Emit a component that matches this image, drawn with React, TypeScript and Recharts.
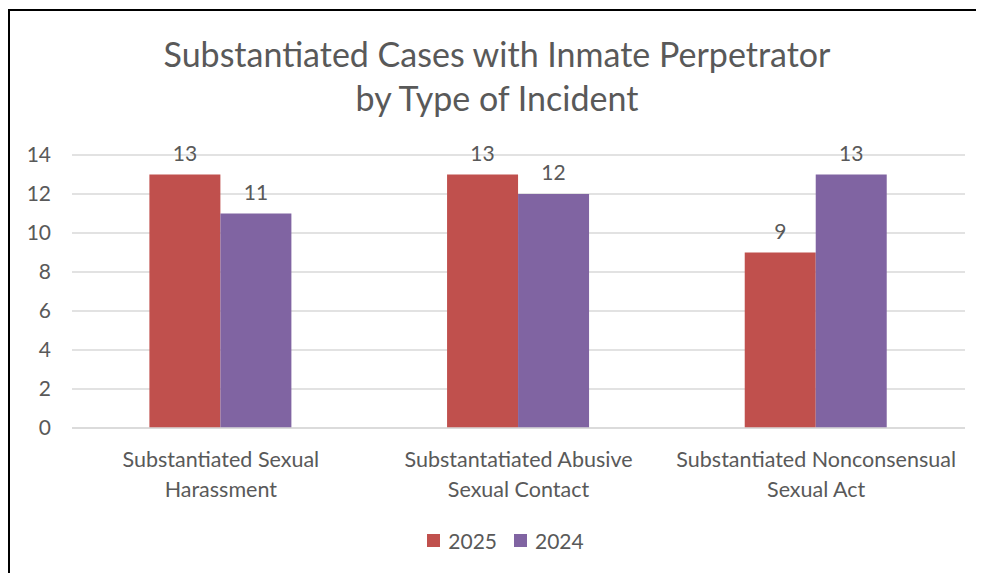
import { BarChart, Bar, XAxis, YAxis, CartesianGrid, Legend, LabelList } from 'recharts';

const categories = [
  ['Substantiated Sexual', 'Harassment'],
  ['Substantatiated Abusive', 'Sexual Contact'],
  ['Substantiated Nonconsensual', 'Sexual Act'],
];
const cases2025 = [13, 13, 9];
const cases2024 = [11, 12, 13];
const yTicks = [0, 2, 4, 6, 8, 10, 12, 14];

const FONT = 'Lato, "Open Sans", sans-serif';
const TEXT = '#595959';

const data = categories.map((c, i) => ({
  name: c.join(' '),
  y2025: cases2025[i],
  y2024: cases2024[i],
}));

function CategoryTick({ x, y, index }: any) {
  const lines = categories[index] ?? [];
  return (
    <g transform={`translate(${x},${y})`}>
      {lines.map((l, i) => (
        <text key={i} x={0} y={i * 30 + 31} textAnchor="middle" fill={TEXT} fontSize={21.5} fontFamily={FONT}>
          {l}
        </text>
      ))}
    </g>
  );
}

function LegendBox() {
  const items = [
    { label: '2025', color: '#C0504D' },
    { label: '2024', color: '#8064A2' },
  ];
  return (
    <div
      style={{
        display: 'flex',
        justifyContent: 'center',
        gap: 17,
        fontFamily: FONT,
        fontSize: 21,
        color: TEXT,
        paddingLeft: 36,
      }}
    >
      {items.map((it) => (
        <div key={it.label} style={{ display: 'flex', alignItems: 'center', gap: 8 }}>
          <span style={{ width: 13, height: 13, background: it.color, display: 'inline-block' }} />
          <span>{it.label}</span>
        </div>
      ))}
    </div>
  );
}

export default function App() {
  return (
    <div
      style={{
        position: 'relative',
        marginTop: 1,
        width: 974,
        height: 562,
        borderTop: '2px solid #000',
        borderLeft: '2px solid #000',
        overflow: 'hidden',
        background: '#fff',
      }}
    >
      <div
        style={{
          position: 'absolute',
          top: 21,
          left: 0,
          width: 974,
          textAlign: 'center',
          fontFamily: FONT,
          fontSize: 34,
          lineHeight: '44px',
          color: TEXT,
        }}
      >
        Substantiated Cases with Inmate Perpetrator
        <br />
        by Type of Incident
      </div>
      <BarChart
        width={974}
        height={562}
        data={data}
        margin={{ top: 144, right: 19, left: 0, bottom: 0 }}
        barCategoryGap="26%"
        barGap={0}
      >
        <CartesianGrid vertical={false} stroke="#d9d9d9" strokeWidth={1.5} />
        <XAxis
          dataKey="name"
          height={100}
          tick={<CategoryTick />}
          tickLine={false}
          axisLine={{ stroke: '#d9d9d9', strokeWidth: 1.5 }}
          interval={0}
        />
        <YAxis
          width={62}
          domain={[0, 14]}
          ticks={yTicks}
          tickLine={false}
          axisLine={false}
          tickMargin={15}
          tick={{ fill: TEXT, fontSize: 21, fontFamily: FONT }}
        />
        <Legend verticalAlign="bottom" height={45} content={<LegendBox />} />
        <Bar dataKey="y2025" name="2025" fill="#C0504D" isAnimationActive={false}>
          <LabelList dataKey="y2025" position="top" offset={14} fill={TEXT} fontSize={21} fontFamily={FONT} />
        </Bar>
        <Bar dataKey="y2024" name="2024" fill="#8064A2" isAnimationActive={false}>
          <LabelList dataKey="y2024" position="top" offset={14} fill={TEXT} fontSize={21} fontFamily={FONT} />
        </Bar>
      </BarChart>
    </div>
  );
}
